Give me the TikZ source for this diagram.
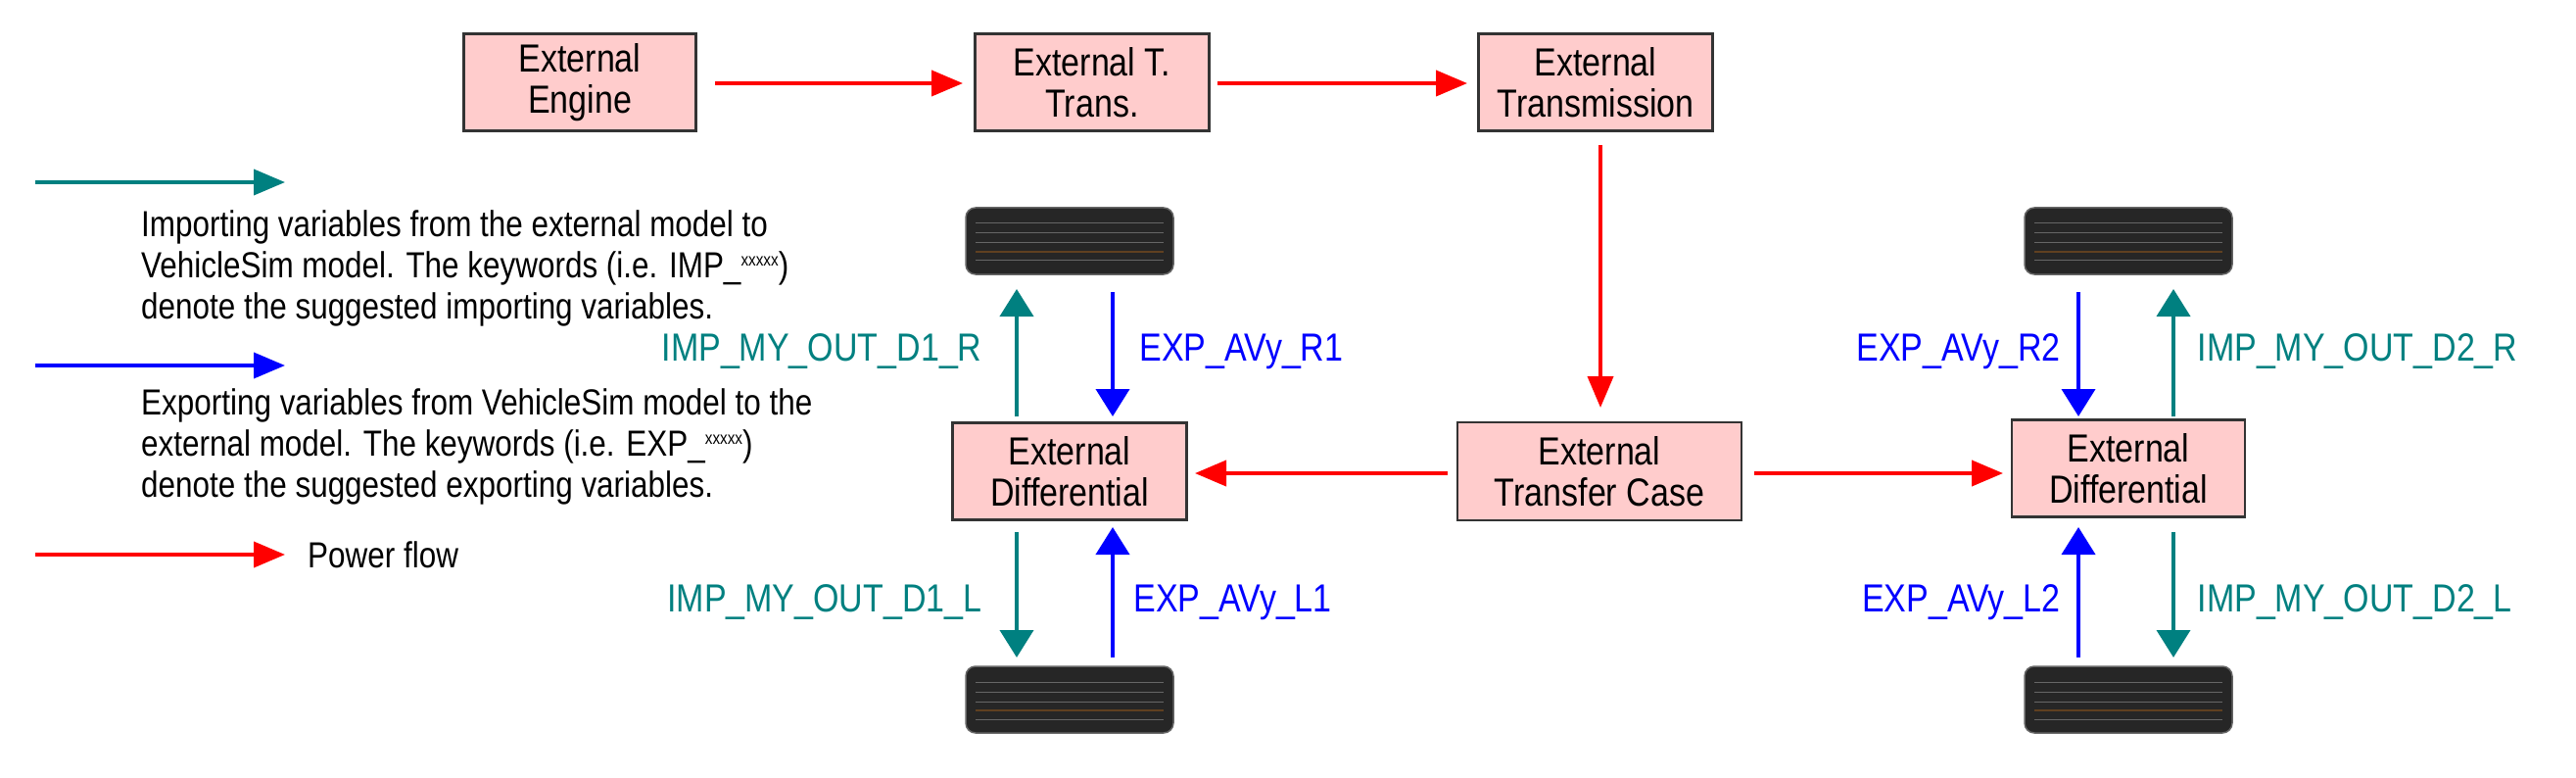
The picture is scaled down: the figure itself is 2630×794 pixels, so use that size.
\documentclass[tikz,border=0pt]{standalone}
\usepackage{fontspec}
\setmainfont{Liberation Sans}[FakeStretch=0.85]
\usetikzlibrary{arrows.meta}
\definecolor{teal1}{RGB}{0,128,128}
\definecolor{pinkb}{RGB}{255,204,204}
\begin{document}
\begin{tikzpicture}[x=1pt,y=-1pt,
  box/.style={draw=black!80,line width=2.5pt,fill=pinkb,align=center,font=\fontsize{40}{42}\selectfont,inner sep=0pt},
  pw/.style={red,line width=4pt,-{Triangle[length=32pt,width=26pt]}},
  imp/.style={teal1,line width=4pt,-{Triangle[length=28pt,width=34pt]}},
  exp/.style={blue,line width=4pt,-{Triangle[length=28pt,width=34pt]}},
  lab/.style={font=\fontsize{40}{44}\selectfont},
  txt/.style={font=\fontsize{37}{42}\selectfont,align=left,anchor=north west,inner sep=0pt},
  tyre/.style={fill=black!85,rounded corners=10pt,draw=black!60,line width=1.5pt}]
\useasboundingbox (0,0) rectangle (2630,794);
% boxes
\node[box,minimum width=237pt,minimum height=99pt] (eng) at (592,84) {External\\Engine};
\node[box,minimum width=239pt,minimum height=99pt] (tt) at (1115,84) {External T.\\Trans.};
\node[box,minimum width=239pt,minimum height=99pt] (tr) at (1629,84) {External\\Transmission};
\node[box,minimum width=290pt,minimum height=100pt] (tc) at (1633,481) {External\\Transfer Case};
\node[box,minimum width=239pt,minimum height=99pt] (dl) at (1092,481) {External\\Differential};
\node[box,minimum width=238pt,minimum height=99pt] (dr) at (2173,478) {External\\Differential};
% tyres
\foreach \n/\x/\y in {tlt/1092/246,tlb/1092/714,trt/2173/246,trb/2173/714}{
  \node[tyre,minimum width=212pt,minimum height=68pt,inner sep=0pt] (\n) at (\x,\y) {};
  \foreach \k in {-18,-8,2,20}{\draw[black!60,line width=1pt] (\x-96,\y+\k) -- (\x+96,\y+\k);}
  \draw[brown!50!black,line width=1.5pt] (\x-96,\y+11) -- (\x+96,\y+11);
}
% coordinates
\coordinate (a1) at (730,85); \coordinate (a2) at (983,85);
\coordinate (b1) at (1243,85); \coordinate (b2) at (1498,85);
\coordinate (c1) at (1634,148); \coordinate (c2) at (1634,416);
\coordinate (d1) at (1478,483); \coordinate (d2) at (1220,483);
\coordinate (e1) at (1791,483); \coordinate (e2) at (2045,483);
\draw[pw] (a1) -- (a2);
\draw[pw] (b1) -- (b2);
\draw[pw] (c1) -- (c2);
\draw[pw] (d1) -- (d2);
\draw[pw] (e1) -- (e2);
% diff arrows
\draw[imp] (1038,425) -- (1038,295);
\draw[exp] (1136,298) -- (1136,425);
\draw[imp] (1038,543) -- (1038,671);
\draw[exp] (1136,671) -- (1136,538);
\draw[exp] (2122,298) -- (2122,425);
\draw[imp] (2219,425) -- (2219,295);
\draw[exp] (2122,671) -- (2122,538);
\draw[imp] (2219,543) -- (2219,671);
% labels
\node[lab,teal1,anchor=east] (l1) at (1006,359) {IMP\_MY\_OUT\_D1\_R};
\node[lab,blue,anchor=west] (l2) at (1160,359) {EXP\_AVy\_R1};
\node[lab,teal1,anchor=east] (l3) at (1006,615) {IMP\_MY\_OUT\_D1\_L};
\node[lab,blue,anchor=west] (l4) at (1154,615) {EXP\_AVy\_L1};
\node[lab,blue,anchor=east] (l5) at (2107,359) {EXP\_AVy\_R2};
\node[lab,teal1,anchor=west] (l6) at (2240,359) {IMP\_MY\_OUT\_D2\_R};
\node[lab,blue,anchor=east] (l7) at (2107,615) {EXP\_AVy\_L2};
\node[lab,teal1,anchor=west] (l8) at (2240,615) {IMP\_MY\_OUT\_D2\_L};
% legend
\coordinate (g1) at (36,186); \coordinate (g2) at (291,186);
\coordinate (h1) at (36,373); \coordinate (h2) at (291,373);
\coordinate (k1) at (36,566); \coordinate (k2) at (291,566);
\draw[imp,-{Triangle[length=32pt,width=26pt]}] (g1) -- (g2);
\draw[exp,-{Triangle[length=32pt,width=26pt]}] (h1) -- (h2);
\draw[pw] (k1) -- (k2);
\node[txt] (t1) at (144,214) {Importing variables from the external model to\\VehicleSim model. The keywords (i.e. IMP\_\raisebox{0.6ex}{\fontsize{18}{20}\selectfont xxxxx})\\denote the suggested importing variables.};
\node[txt] (t2) at (144,396) {Exporting variables from VehicleSim model to the\\external model. The keywords (i.e. EXP\_\raisebox{0.6ex}{\fontsize{18}{20}\selectfont xxxxx})\\denote the suggested exporting variables.};
\node[txt,anchor=west] (t3) at (314,566) {Power flow};
\end{tikzpicture}
\end{document}
